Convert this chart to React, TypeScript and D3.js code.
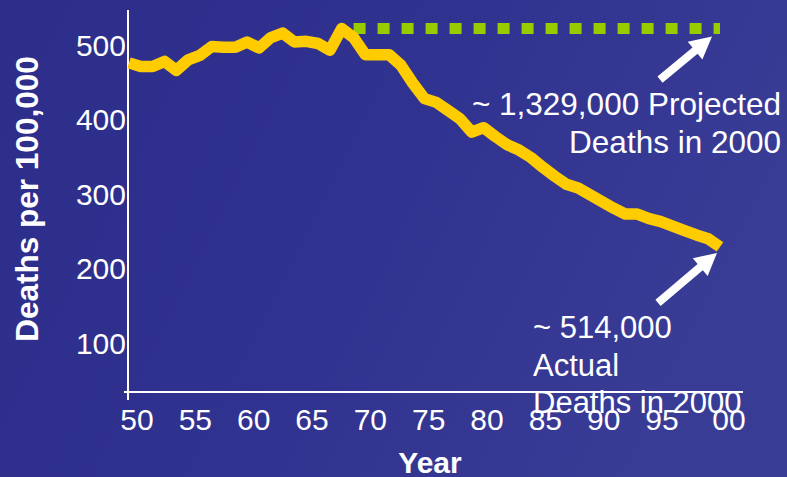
import React from "react";
import * as d3 from "d3";

const years = [1950, 1951, 1952, 1953, 1954, 1955, 1956, 1957, 1958, 1959,
  1960, 1961, 1962, 1963, 1964, 1965, 1966, 1967, 1968, 1969,
  1970, 1971, 1972, 1973, 1974, 1975, 1976, 1977, 1978, 1979,
  1980, 1981, 1982, 1983, 1984, 1985, 1986, 1987, 1988, 1989,
  1990, 1991, 1992, 1993, 1994, 1995, 1996, 1997, 1998, 1999, 2000];
const actualDeaths = [476, 471, 471, 478, 466, 480, 486, 498, 497, 497,
  504, 496, 510, 516, 504, 505, 502, 493, 522, 510,
  487, 487, 487, 473, 449, 428, 423, 412, 401, 383,
  389, 377, 366, 359, 349, 336, 324, 313, 308, 299,
  290, 281, 273, 273, 267, 263, 257, 251, 245, 240, 229];
const projectedYears = [1969, 2000];
const projectedDeaths = [522, 522];
const xTickYears = [1950, 1955, 1960, 1965, 1970, 1975, 1980, 1985, 1990, 1995, 2000];
const xTickLabels = ["50", "55", "60", "65", "70", "75", "80", "85", "90", "95", "00"];
const yTicks = [100, 200, 300, 400, 500];
const yTitle = "Deaths per 100,000";
const xTitle = "Year";
const projectedNote = ["~ 1,329,000 Projected", "Deaths in 2000"];
const actualNote = ["~ 514,000", "Actual", "Deaths in 2000"];

const W = 787;
const H = 477;
const FONT = "'Liberation Sans', Arial, sans-serif";

function arrowPoints(tail: [number, number], tip: [number, number], sw: number, hl: number, hw: number) {
  const dx = tip[0] - tail[0];
  const dy = tip[1] - tail[1];
  const len = Math.hypot(dx, dy);
  const ux = dx / len, uy = dy / len;
  const px = -uy, py = ux;
  const bx = tip[0] - ux * hl, by = tip[1] - uy * hl;
  const pts = [
    [tail[0] + px * sw / 2, tail[1] + py * sw / 2],
    [bx + px * sw / 2, by + py * sw / 2],
    [bx + px * hw / 2, by + py * hw / 2],
    [tip[0], tip[1]],
    [bx - px * hw / 2, by - py * hw / 2],
    [bx - px * sw / 2, by - py * sw / 2],
    [tail[0] - px * sw / 2, tail[1] - py * sw / 2],
  ];
  return pts.map((p) => p.join(",")).join(" ");
}

export default function App() {
  const x = d3.scaleLinear().domain([1950, 2000]).range([129, 720]);
  const y = d3.scaleLinear().domain([0, 500]).range([417.5, 45]);
  const labelX = d3.scaleLinear().domain([1950, 1995, 2000]).range([137, 662, 729]);

  const line = d3.line<number>().x((_, i) => x(years[i])).y((d) => y(d));
  const projLine = d3.line<number>().x((_, i) => x(projectedYears[i])).y((d) => y(d));

  const axisY = 392;
  const axisX = 128;

  const projTip: [number, number] = [x(2000) - 8, y(projectedDeaths[1]) + 8];
  const projTail: [number, number] = [projTip[0] - 52, projTip[1] + 43];
  const actTip: [number, number] = [x(2000) - 3, y(actualDeaths[actualDeaths.length - 1]) + 6];
  const actTail: [number, number] = [actTip[0] - 59, actTip[1] + 50];

  return (
    <svg width={W} height={H} style={{ position: "absolute", left: 0, top: 0 }} fontFamily={FONT}>
      <defs>
        <linearGradient id="bg" x1="0" y1="0" x2="1" y2="0.3">
          <stop offset="0" stopColor="#2d2d8a" />
          <stop offset="0.6" stopColor="#313390" />
          <stop offset="1" stopColor="#393c95" />
        </linearGradient>
      </defs>
      <rect x={0} y={0} width={W} height={H} fill="url(#bg)" />

      {/* axes */}
      <line x1={axisX} x2={axisX} y1={10} y2={400} stroke="#fff" strokeWidth={2} />
      <line x1={124} x2={743} y1={axisY} y2={axisY} stroke="#fff" strokeWidth={2} />

      {yTicks.map((t) => (
        <text key={t} x={126} y={y(t) + 10.5} textAnchor="end" fill="#fff" fontSize={30}>
          {t}
        </text>
      ))}
      {xTickYears.map((t, i) => (
        <text key={t} x={labelX(t)} y={430} textAnchor="middle" fill="#fff" fontSize={30}>
          {xTickLabels[i]}
        </text>
      ))}

      <text
        transform={`translate(37.5,199) rotate(-90)`}
        textAnchor="middle"
        fill="#fff"
        fontSize={31.5}
        fontWeight="bold"
      >
        {yTitle}
      </text>
      <text x={430} y={473} textAnchor="middle" fill="#fff" fontSize={30} fontWeight="bold">
        {xTitle}
      </text>

      {/* projected */}
      <path
        d={projLine(projectedDeaths) || ""}
        fill="none"
        stroke="#99cc00"
        strokeWidth={11}
        strokeDasharray="12 12"
      />

      {/* actual */}
      <path
        d={line(actualDeaths) || ""}
        fill="none"
        stroke="#ffcc00"
        strokeWidth={11.5}
        strokeLinejoin="round"
        strokeLinecap="butt"
      />

      {/* arrows */}
      <polygon points={arrowPoints(projTail, projTip, 8, 22, 23)} fill="#fff" />
      <polygon points={arrowPoints(actTail, actTip, 8, 22, 23)} fill="#fff" />

      {/* annotations */}
      {projectedNote.map((s, i) => (
        <text key={s} x={781} y={115 + i * 38} textAnchor="end" fill="#fff" fontSize={31.5}>
          {s}
        </text>
      ))}
      {actualNote.map((s, i) => (
        <text key={s} x={533} y={338 + i * 37.5} fill="#fff" fontSize={31}>
          {s}
        </text>
      ))}
    </svg>
  );
}
